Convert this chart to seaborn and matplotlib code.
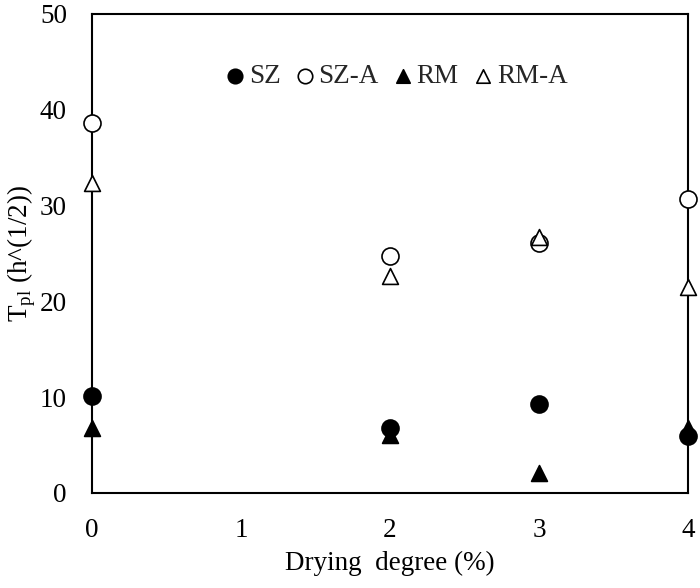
import matplotlib
matplotlib.use("Agg")
import matplotlib.pyplot as plt
import seaborn as sns
import pandas as pd

# Drying degree on the x axis and T_pl for each mix
drying = [0, 2, 3, 4]
sz = [10.1, 6.8, 9.3, 5.9]
sz_a = [38.6, 24.7, 26.1, 30.7]
rm = [6.8, 6.05, 2.1, 6.8]
rm_a = [32.3, 22.6, 26.7, 21.5]

series_names = ["SZ", "SZ-A", "RM", "RM-A"]
x_ticks = [0, 1, 2, 3, 4]
y_ticks = [0, 10, 20, 30, 40, 50]

sns.set_theme(style="white")
plt.rcParams["font.family"] = ["Liberation Serif", "DejaVu Serif"]
plt.rcParams["mathtext.fontset"] = "custom"
plt.rcParams["mathtext.rm"] = "Liberation Serif"

df = pd.DataFrame({
    "x": drying * 4,
    "y": sz + sz_a + rm + rm_a,
    "series": sum([[n] * len(drying) for n in series_names], []),
})

styles = {
    "SZ": dict(marker="o", facecolor="black", s=150),
    "SZ-A": dict(marker="o", facecolor="white", s=150),
    "RM": dict(marker="^", facecolor="black", s=130),
    "RM-A": dict(marker="^", facecolor="white", s=130),
}

FS = 19.5

fig = plt.figure(figsize=(7.0, 5.88), dpi=100)
ax = fig.add_axes([0.1314, 0.1616, 0.8516, 0.8154])

for name in series_names:
    st = styles[name]
    sns.scatterplot(data=df[df["series"] == name], x="x", y="y", ax=ax,
                    marker=st["marker"], s=st["s"], color=st["facecolor"],
                    edgecolor="black", linewidth=1.2, label=name,
                    clip_on=False, zorder=3)

ax.set_xlim(0, 4)
ax.set_ylim(0, 50)
ax.set_xticks(x_ticks)
ax.set_yticks(y_ticks)
ax.tick_params(axis="both", length=0, labelsize=FS, colors="black", pad=18)
for sp in ax.spines.values():
    sp.set_color("black")
    sp.set_linewidth(1.5)

ax.set_xlabel("Drying  degree (%)", fontsize=FS, color="black", labelpad=6)
ax.set_ylabel(r"T$_{\mathrm{pl}}$ (h^(1/2))", fontsize=FS, color="black", labelpad=1)

leg = ax.legend(loc="upper center", bbox_to_anchor=(0.51, 0.935), ncol=4,
                frameon=False, fontsize=FS, handletextpad=0.1, handlelength=0.8,
                columnspacing=0.5, markerscale=0.85, borderpad=0.2)

fig.savefig("out.png", dpi=100)
